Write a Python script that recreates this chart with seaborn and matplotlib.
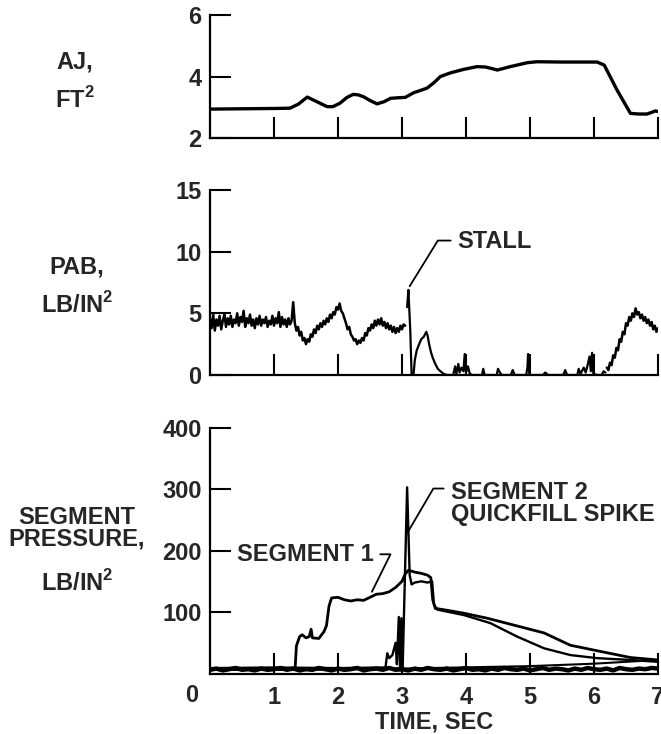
import numpy as np
import seaborn as sns
import matplotlib
import matplotlib.pyplot as plt

matplotlib.use('agg')

# Nozzle area AJ (ft^2) vs time
aj_time = [0.0, 0.5, 1.0, 1.25, 1.38, 1.52, 1.65, 1.83, 1.92, 2.03, 2.14, 2.24, 2.32, 2.40, 2.50,
           2.61, 2.72, 2.82, 2.95, 3.05, 3.18, 3.39, 3.50, 3.60, 3.76, 3.96, 4.17, 4.30, 4.40, 4.49,
           4.69, 4.96, 5.11, 5.50, 6.05, 6.16, 6.36, 6.57, 6.70, 6.83, 6.96, 7.0]
aj_area = [2.94, 2.95, 2.96, 2.97, 3.10, 3.33, 3.20, 3.02, 3.02, 3.13, 3.32, 3.42, 3.40, 3.34, 3.22,
           3.11, 3.18, 3.29, 3.31, 3.32, 3.47, 3.62, 3.80, 4.00, 4.12, 4.23, 4.32, 4.31, 4.26, 4.21,
           4.32, 4.45, 4.48, 4.47, 4.47, 4.37, 3.56, 2.80, 2.78, 2.78, 2.88, 2.86]

# PAB (lb/in^2): noisy part before the stall, sampled every 0.025 s
pab_early_psi = [
    4.6, 3.8, 4.9, 3.6, 4.5, 4.0, 4.8, 3.7, 4.4, 4.9,
    3.9, 4.6, 4.1, 4.8, 3.9, 4.5, 4.2, 5.0, 4.0, 4.7,
    4.3, 5.2, 3.9, 4.6, 4.2, 4.9, 4.0, 4.5, 3.8, 4.6,
    4.1, 4.8, 4.0, 4.5, 4.2, 4.7, 3.9, 4.4, 4.1, 4.8,
    4.0, 4.6, 4.2, 5.1, 3.9, 4.7, 4.1, 4.5, 3.9, 4.6,
    4.1, 4.4, 5.9, 4.2, 3.6, 3.9, 3.2, 3.5, 2.8, 3.0,
    2.5, 2.9, 2.7, 3.3, 3.1, 3.7, 3.4, 4.0, 3.7, 4.2,
    3.9, 4.4, 4.1, 4.6, 4.3, 4.9, 4.6, 5.1, 4.9, 5.5,
    5.3, 5.8, 5.2, 5.0, 4.6, 4.2, 3.7, 3.9, 3.3, 3.1,
    2.8, 2.9, 2.5, 2.8, 2.6, 3.0, 2.8, 3.4, 3.2, 3.8,
    3.6, 4.1, 3.8, 4.4, 4.0, 4.5, 4.1, 4.6, 4.0, 4.3,
    3.8, 4.2, 3.7, 4.0, 3.5, 3.9, 3.4, 3.8, 3.5, 4.0,
    3.7, 4.1, 4.0]
pab_early_time = np.linspace(0.0, 3.05, len(pab_early_psi))

# stall and quiet period
pab_mid_time = [3.08, 3.1, 3.13, 3.15, 3.18, 3.2, 3.23, 3.26, 3.3, 3.34, 3.38, 3.4, 3.42, 3.45, 3.48,
                3.52, 3.56, 3.6, 3.65, 3.7, 3.8, 3.83, 3.85, 3.88, 3.9, 3.93, 3.96, 3.98, 4.0, 4.03,
                4.06, 4.1, 4.25, 4.27, 4.29, 4.48, 4.5, 4.53, 4.56, 4.7, 4.73, 4.76, 4.94, 4.96, 4.97,
                4.99, 5.2, 5.24, 5.28, 5.52, 5.55, 5.58, 5.74, 5.76, 5.79, 5.84, 5.87, 5.9, 5.93, 5.95,
                5.97, 5.99, 6.05, 6.12, 6.15, 6.18]
pab_mid_psi = [5.5, 6.9, 3.5, 0.0, 0.0, 1.2, 2.0, 2.4, 2.9, 3.1, 3.5, 3.2, 2.6, 1.9, 1.4,
               0.9, 0.5, 0.3, 0.1, 0.0, 0.0, 0.7, 0.1, 0.9, 0.2, 0.6, 0.3, 1.7, 0.2, 0.7,
               0.1, 0.0, 0.0, 0.5, 0.0, 0.0, 0.5, 0.2, 0.0, 0.0, 0.4, 0.0, 0.0, 0.6, 1.7,
               0.0, 0.0, 0.2, 0.0, 0.0, 0.4, 0.0, 0.0, 0.5, 0.1, 0.6, 0.2, 0.8, 1.5, 0.3,
               1.8, 0.1, 0.0, 0.0, 0.3, 0.2]

# recovery at the end, every 0.025 s
pab_late_psi = [0.6, 0.4, 1.0, 0.8, 1.6, 1.4, 2.2, 2.0, 2.9, 2.7,
                3.5, 3.3, 4.2, 4.0, 4.7, 4.4, 5.0, 4.7, 5.4, 4.9,
                5.1, 4.6, 4.9, 4.4, 4.7, 4.2, 4.5, 4.0, 4.3, 3.7,
                4.0, 3.5, 3.8]
pab_late_time = np.linspace(6.2, 7.0, len(pab_late_psi))

# Segment pressures (lb/in^2)
seg1_time = [0.0, 1.0, 1.33, 1.35, 1.40, 1.44, 1.50, 1.55, 1.58, 1.60, 1.70, 1.78, 1.82, 1.86, 1.90,
             2.0, 2.1, 2.2, 2.3, 2.4, 2.5, 2.6, 2.7, 2.8, 2.9, 3.0, 3.05, 3.1, 3.2, 3.3,
             3.4, 3.45, 3.48, 3.52, 3.7, 3.97, 4.33, 4.85, 5.22, 5.63, 6.05, 6.57, 7.0]
seg1_psi = [7, 8, 8, 45, 60, 63, 58, 60, 72, 58, 57, 68, 78, 110, 123,
            124, 120, 118, 120, 119, 124, 129, 130, 133, 140, 150, 162, 168, 165, 163,
            160, 156, 120, 106, 103, 98, 90, 76, 66, 46, 37, 26, 22]

seg2_time = [0.0, 1.5, 2.74, 2.77, 2.80, 2.85, 2.90, 2.92, 2.95, 2.97, 2.99, 3.01, 3.08, 3.12, 3.15,
             3.2, 3.3, 3.4, 3.47, 3.5, 3.55, 3.97, 4.38, 4.8, 5.22, 5.63, 6.05, 6.57, 7.0]
seg2_psi = [6, 6, 8, 33, 25, 30, 50, 15, 92, 5, 90, 8, 303, 160, 145,
            148, 150, 148, 150, 112, 104, 95, 82, 60, 41, 30, 25, 22, 19]

# thick baseline trace (other segments), every 0.1 s
base_psi = [6, 8, 5, 7, 9, 6, 7, 5, 8, 6,
            7, 9, 6, 8, 5, 7, 6, 9, 7, 5,
            8, 6, 7, 9, 5, 7, 8, 6, 9, 6,
            7, 5, 8, 6, 9, 7, 6, 8, 5, 7,
            9, 6, 7, 5, 8, 6, 9, 7, 6, 8,
            5, 7, 9, 6, 8, 7, 5, 8, 6, 9,
            7, 6, 8, 5, 9, 7, 6, 8, 7, 9, 8]
base_time = np.linspace(0.0, 7.0, len(base_psi))

drift_time = [0.0, 1.0, 2.0, 2.7, 3.0, 3.5, 4.0, 4.5, 5.0, 5.5, 6.0, 6.5, 7.0]
drift_psi = [9, 10, 9, 10, 8, 9, 10, 11, 12, 14, 16, 19, 22]

time_ticks = [1, 2, 3, 4, 5, 6, 7]

sns.set_theme(style='white')
plt.rcParams['font.family'] = ['Liberation Sans', 'DejaVu Sans']
plt.rcParams['font.weight'] = 'bold'
plt.rcParams['mathtext.fontset'] = 'custom'
plt.rcParams['mathtext.bf'] = 'Liberation Sans:bold'
plt.rcParams['mathtext.rm'] = 'Liberation Sans:bold'

FS = 17
W, H = 661, 734
fig = plt.figure(figsize=(W / 100, H / 100), dpi=100)

def px_axes(top, bottom):
    left, right = 210, 658
    return fig.add_axes([left / W, 1 - bottom / H, (right - left) / W, (bottom - top) / H])

ax1 = px_axes(15, 138)
ax2 = px_axes(190, 375)
ax3 = px_axes(427.7, 673.5)

def line(ax, x, y, lw=1.8):
    sns.lineplot(x=x, y=y, ax=ax, color='black', lw=lw, estimator=None, sort=False, legend=False)

line(ax1, aj_time, aj_area, lw=2.4)
line(ax2, pab_early_time, pab_early_psi, lw=1.8)
line(ax2, pab_mid_time, pab_mid_psi, lw=1.6)
line(ax2, pab_late_time, pab_late_psi, lw=1.8)
line(ax3, base_time, base_psi, lw=3.2)
line(ax3, drift_time, drift_psi, lw=1.5)
line(ax3, seg2_time, seg2_psi, lw=1.7)
line(ax3, seg1_time, seg1_psi, lw=2.0)

for ax, ylim, yticks in [(ax1, (2, 6), [2, 4, 6]),
                         (ax2, (0, 15), [0, 5, 10, 15]),
                         (ax3, (0, 400), [100, 200, 300, 400])]:
    ax.set_xlim(0, 7)
    ax.set_ylim(*ylim)
    ax.set_yticks(yticks)
    ax.set_xticks(time_ticks)
    ax.set_xlabel('')
    ax.set_ylabel('')
    sns.despine(ax=ax)
    for s in ['left', 'bottom']:
        ax.spines[s].set_linewidth(1.6)
        ax.spines[s].set_color('black')
    ax.tick_params(axis='both', direction='in', length=15, width=1.5, color='black',
                   left=True, bottom=True, labelsize=FS, pad=6)
    ax.tick_params(axis='x', pad=9)
    for lab in ax.get_yticklabels():
        lab.set_fontweight('bold')

ax1.set_xticklabels([])
ax2.set_xticklabels([])
ax3.set_xticklabels([str(t) for t in time_ticks], fontweight='bold')
ax3.annotate('0', xy=(0, 0), xycoords=('data', 'axes fraction'), xytext=(-13, -15.5),
             textcoords='offset points', ha='center', va='center', fontsize=FS, fontweight='bold')
ax3.set_xlabel('TIME, SEC', fontsize=FS, fontweight='bold', labelpad=1)

# annotations
ax2.plot([3.76, 3.56, 3.12], [10.9, 10.9, 7.2], color='black', lw=1.3)
ax2.text(3.86, 10.85, 'STALL', fontsize=FS, fontweight='bold', va='center', ha='left')

ax3.plot([2.66, 2.82, 2.53], [194, 194, 133], color='black', lw=1.3)
ax3.text(0.42, 194, 'SEGMENT 1', fontsize=FS, fontweight='bold', va='center', ha='left')

ax3.plot([3.65, 3.49, 3.09], [301, 301, 230], color='black', lw=1.3)
ax3.text(3.76, 277, 'SEGMENT 2\nQUICKFILL SPIKE', fontsize=FS, fontweight='bold',
         va='center', ha='left', linespacing=0.95)

# y-axis titles
def ylab(x, y, s):
    fig.text(x / W, 1 - y / H, s, fontsize=FS, fontweight='bold', ha='center', va='center')

ylab(75, 62, 'AJ,')
ylab(75, 100, r'FT$^{\mathbf{2}}$')
ylab(77, 267, 'PAB,')
ylab(77, 305, r'LB/IN$^{\mathbf{2}}$')
ylab(77, 518, 'SEGMENT')
ylab(77, 539, 'PRESSURE,')
ylab(77, 583, r'LB/IN$^{\mathbf{2}}$')

fig.savefig('out.png', dpi=100)
